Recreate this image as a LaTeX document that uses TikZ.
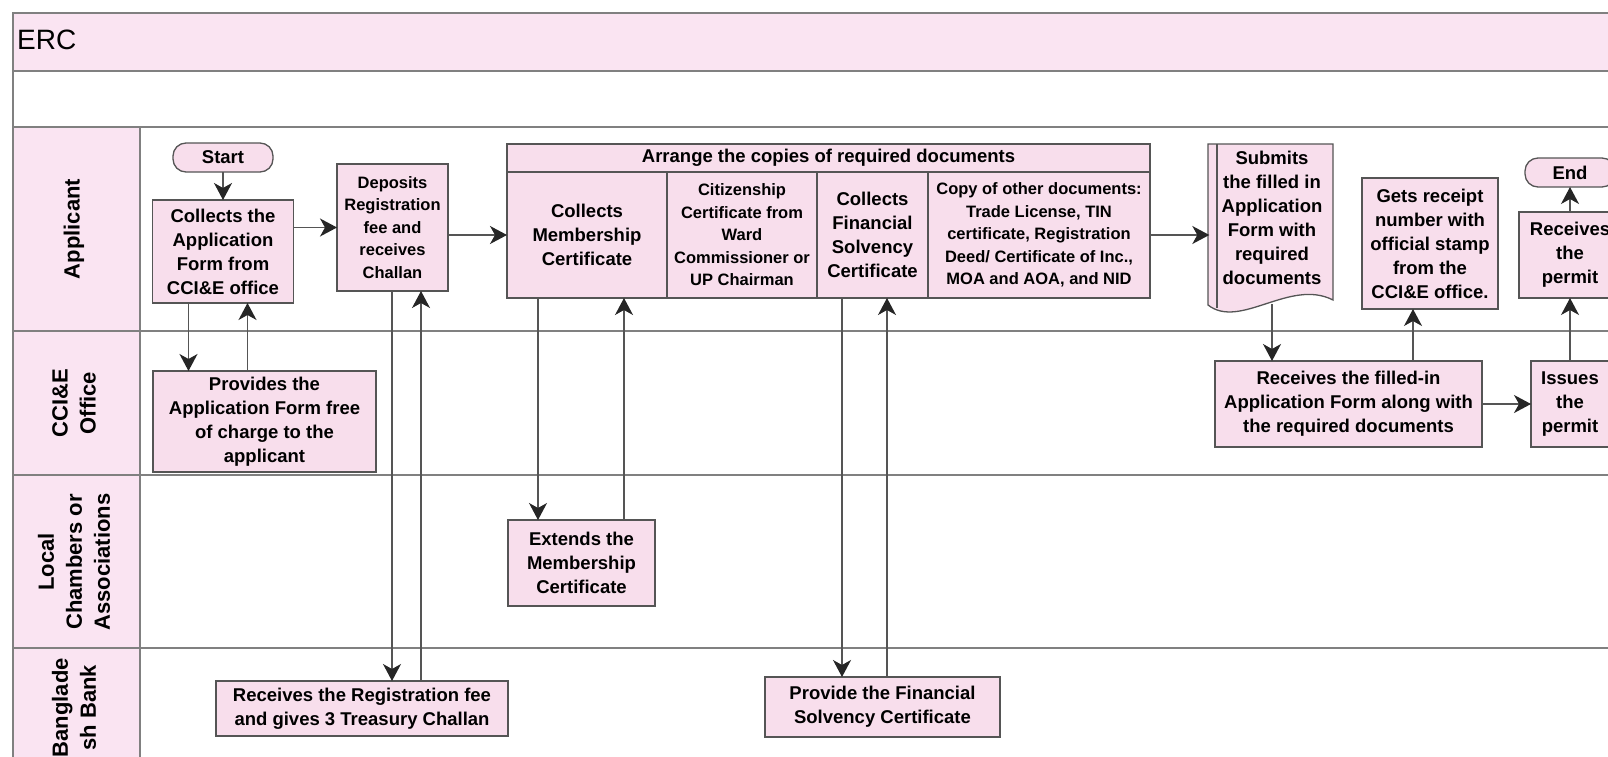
\documentclass[tikz,border=0pt]{standalone}
\usepackage{fontspec}
\setmainfont{Liberation Sans}
\usepackage{tikz}
\usetikzlibrary{positioning}
\usetikzlibrary{calc,arrows.meta}
\usepackage{xcolor}
\definecolor{lanepink}{RGB}{250,228,242}
\definecolor{boxpink}{RGB}{248,222,236}
\definecolor{lanegray}{RGB}{128,128,128}
\definecolor{boxgray}{RGB}{85,85,85}
\newcommand{\boxfont}{\fontsize{18.5}{24}\selectfont\bfseries}
\newcommand{\smallboxfont}{\fontsize{16.5}{22.5}\selectfont\bfseries}
\newcommand{\lanefont}{\fontsize{22}{28}\selectfont\bfseries}
\pgfkeys{tikz/procbox/.style={draw=boxgray, line width=1.3pt, fill=boxpink, rectangle, align=center, inner sep=2pt, outer sep=0pt, font=\boxfont}}
\pgfkeys{tikz/terminal/.style={procbox, rounded corners=13pt, minimum height=29pt}}
\pgfkeys{tikz/cell/.style={procbox, minimum height=126pt}}
\pgfkeys{tikz/lanelabel/.style={rotate=90, align=center, font=\lanefont, inner sep=0pt}}
\pgfkeys{tikz/laneedge/.style={draw=lanegray, line width=2pt}}
\pgfkeys{tikz/flow/.style={draw=boxgray, line width=1.3pt, -{Stealth[length=17pt,width=18pt,inset=5pt,black!85]}}}

\begin{document}
\begin{tikzpicture}[x=1pt,y=-1pt]

	\useasboundingbox (0,0) rectangle (1608,757);
	\clip (0,0) rectangle (1608,757);
	\fill[white] (0,0) rectangle (1608,757);

	\fill[lanepink] (13,13) rectangle (1620,71);
	\fill[lanepink] (13,127) rectangle (140,800);
	\draw[laneedge] (13,800) -- (13,13) -- (1620,13);
	\draw[laneedge] (13,71) -- (1620,71);
	\draw[laneedge] (13,127) -- (1620,127);
	\draw[laneedge] (13,331) -- (1620,331);
	\draw[laneedge] (13,475) -- (1620,475);
	\draw[laneedge] (13,648) -- (1620,648);
	\draw[laneedge] (140,127) -- (140,800);

	\node[anchor=base west, inner sep=0pt, font=\fontsize{28}{30}\selectfont] (erc) at (17,50) {ERC};

	\node[lanelabel] (lapp) at (74,229) {Applicant};
	\node[lanelabel] (lcci) at (74,403) {CCI\&E\\Office};
	\node[lanelabel] (lloc) at (74,562) {Local\\Chambers or\\Associations};
	\node[lanelabel, anchor=east] (lbank) at (74,658) {Banglade\\sh Bank};

	\node[terminal, minimum width=100pt] (start) at (223,157.5) {Start};
	\node[procbox, minimum width=141pt, minimum height=103pt, below=28pt of start] (collect) {Collects the\\Application\\Form from\\CCI\&E office};
	\node[procbox, minimum width=111pt, minimum height=127pt, font=\smallboxfont] (deposit) at (392.5,227.5) {Deposits\\Registration\\fee and\\receives\\Challan};
	\node[procbox, minimum width=223pt, minimum height=101pt] (provide) at (264.5,421.5) {Provides the\\Application Form free\\of charge to the\\applicant};
	\node[procbox, minimum width=292pt, minimum height=55pt] (regfee) at (362,708.5) {Receives the Registration fee\\and gives 3 Treasury Challan};

	\node[cell, minimum width=160pt, anchor=north west] (member) at (507,172) {Collects\\Membership\\Certificate};
	\node[cell, minimum width=150pt, font=\smallboxfont, right=0pt of member] (citizen) {Citizenship\\Certificate from\\Ward\\Commissioner or\\UP Chairman};
	\node[cell, minimum width=111pt, right=0pt of citizen] (financial) {Collects\\Financial\\Solvency\\Certificate};
	\node[cell, minimum width=222pt, font=\smallboxfont, right=0pt of financial] (others) {Copy of other documents:\\Trade License, TIN\\certificate, Registration\\Deed/ Certificate of Inc.,\\MOA and AOA, and NID};
	\node[procbox, minimum width=643pt, minimum height=28pt, anchor=south west] (arrange) at (member.north west) {Arrange the copies of required documents};

	\node[procbox, minimum width=147pt, minimum height=86pt] (extend) at (581.5,563) {Extends the\\Membership\\Certificate};
	\node[procbox, minimum width=235pt, minimum height=60pt] (solvency) at (882.5,707) {Provide the Financial\\Solvency Certificate};

	\draw[draw=boxgray, line width=1.3pt, fill=boxpink] (1208,144) -- (1333,144) -- (1333,300) .. controls (1290,278) and (1240,330) .. (1208,305) -- cycle;
	\draw[draw=boxgray, line width=1.3pt] (1217,144) -- (1217,308);
	\node[align=center, font=\boxfont, inner sep=0pt, minimum width=125pt, minimum height=172pt] (submit) at (1272,218) {Submits\\the filled in\\Application\\Form with\\required\\documents};

	\node[procbox, minimum width=136pt, minimum height=131pt] (receipt) at (1430,243.5) {Gets receipt\\number with\\official stamp\\from the\\CCI\&E office.};
	\node[procbox, minimum width=267pt, minimum height=86pt] (filed) at (1348.5,404) {Receives the filled-in\\Application Form along with\\the required documents};
	\node[procbox, minimum width=78pt, minimum height=86pt, right=49pt of filed] (issue) {Issues\\the\\permit};
	\node[procbox, minimum width=102pt, minimum height=86pt, above=63pt of issue] (permit) {Receives\\the\\permit};
	\node[terminal, minimum width=90pt, above=25pt of permit] (finish) {End};

	\draw[flow] (start) -- (collect);
	\draw[flow] (collect.east |- deposit.west) -- (deposit.west);
	\draw[flow] (deposit.east |- member.west) -- (member.west);
	\draw[flow] ([xshift=-34.5pt]collect.south) -- ([xshift=-34.5pt]collect.south |- provide.north);
	\draw[flow] ([xshift=24.5pt]collect.south |- provide.north) -- ([xshift=24.5pt]collect.south);
	\draw[flow] ([xshift=-0.5pt]deposit.south) -- ([xshift=-0.5pt]deposit.south |- regfee.north);
	\draw[flow] ([xshift=28.5pt]deposit.south |- regfee.north) -- ([xshift=28.5pt]deposit.south);

	\draw[flow] ([xshift=-49pt]member.south) -- ([xshift=-49pt]member.south |- extend.north);
	\draw[flow] ([xshift=37pt]member.south |- extend.north) -- ([xshift=37pt]member.south);
	\draw[flow] ([xshift=-30.5pt]financial.south) -- ([xshift=-30.5pt]financial.south |- solvency.north);
	\draw[flow] ([xshift=14.5pt]financial.south |- solvency.north) -- ([xshift=14.5pt]financial.south);

	\draw[flow] (others.east) -- (others.east -| submit.west);
	\draw[flow] (submit.south) -- (submit.south |- filed.north);
	\draw[flow] ([xshift=64.5pt]filed.north) -- ([xshift=64.5pt]filed.north |- receipt.south);
	\draw[flow] (filed) -- (issue);
	\draw[flow] (issue) -- (permit);
	\draw[flow] (permit) -- (finish);

\end{tikzpicture}
\end{document}
